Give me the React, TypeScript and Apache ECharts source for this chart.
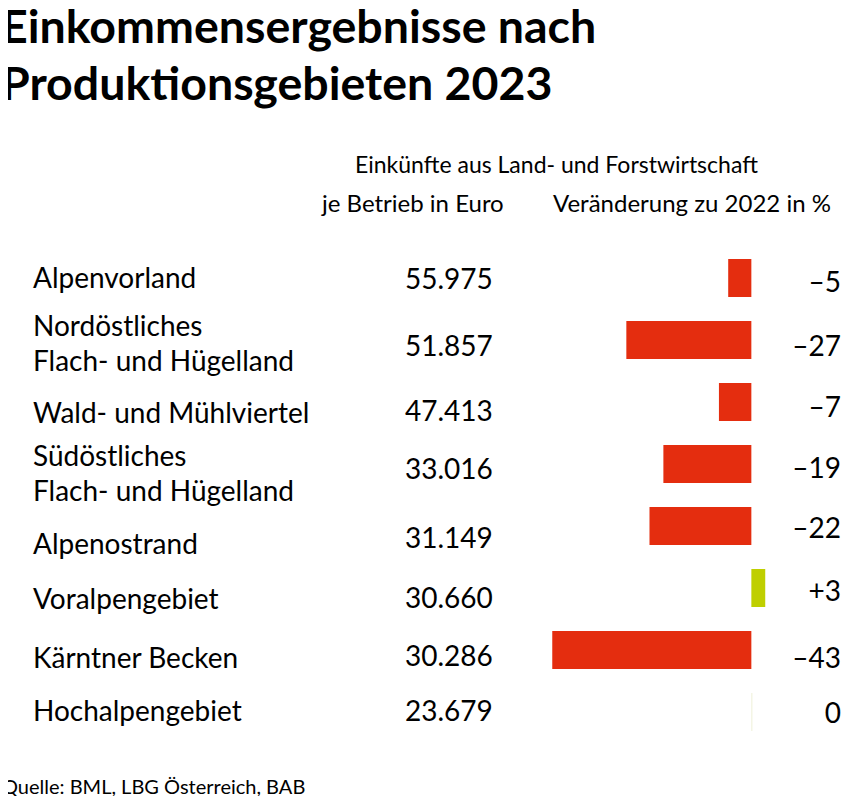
import React, { useEffect, useRef } from "react";
import * as echarts from "echarts";

const regions = [
  "Alpenvorland",
  "Nordöstliches\nFlach- und Hügelland",
  "Wald- und Mühlviertel",
  "Südöstliches\nFlach- und Hügelland",
  "Alpenostrand",
  "Voralpengebiet",
  "Kärntner Becken",
  "Hochalpengebiet",
];
const incomeLabels = ["55.975", "51.857", "47.413", "33.016", "31.149", "30.660", "30.286", "23.679"];
const changes = [-5, -27, -7, -19, -22, 3, -43, 0];

const titleLines = ["Einkommensergebnisse nach", "Produktionsgebieten 2023"];
const headerTop = "Einkünfte aus Land- und Forstwirtschaft";
const headerLeft = "je Betrieb in Euro";
const headerRight = "Veränderung zu 2022 in %";
const sourceText = "Quelle: BML, LBG Österreich, BAB";

// vertical label nudges (styling only)
const nameNudge = [-1, 2, 10, 8, 17, 10, 7, -2];
const valueNudge = [0, 5, 8, 4, 11, 9, 5, -2];
const changeNudge = [3, 5, 4, 3, 1, 2, 7, 0];

const FONT = "Lato";
const RED = "#E42D0F";
const GREEN = "#BFCF00";

function fmtChange(v: number) {
  if (v > 0) return "+" + v;
  if (v < 0) return "\u2013" + Math.abs(v);
  return "0";
}

function buildRich(prefix: string, nudges: number[], fontSize: number, lineHeight: number) {
  const rich: any = {};
  const base = { fontFamily: FONT, fontSize, lineHeight, color: "#000" };
  nudges.forEach((n, i) => {
    rich[prefix + "t" + i] = { ...base, padding: n >= 0 ? [2 * n, 0, 0, 0] : [0, 0, -2 * n, 0] };
  });
  return rich;
}

function makeFormatter(prefix: string) {
  return (value: string, index: number) =>
    String(value)
      .split("\n")
      .map((l) => "{" + prefix + "t" + index + "|" + l + "}")
      .join("\n");
}

export default function App() {
  const ref = useRef<HTMLDivElement>(null);
  useEffect(() => {
    if (!ref.current) return;
    const chart = echarts.init(ref.current, undefined, { renderer: "svg" });
    const labelBase = { fontFamily: FONT, fontSize: 28, color: "#000" };
    const hiddenAxis = {
      type: "category",
      inverse: true,
      axisLine: { show: false },
      axisTick: { show: false },
      splitLine: { show: false },
    };
    const titleStyle = { fontFamily: FONT, fontSize: 46.5, fontWeight: "bold", fill: "#000" };
    chart.setOption({
      animation: false,
      backgroundColor: "#fff",
      graphic: [
        { type: "text", left: 1, top: 1, style: { text: titleLines[0], ...titleStyle } },
        { type: "text", left: 1, top: 58, style: { text: titleLines[1], ...titleStyle } },
        {
          type: "text",
          left: 355,
          top: 152,
          style: { text: headerTop, fontFamily: FONT, fontSize: 23, fill: "#000" },
        },
        {
          type: "text",
          left: 322,
          top: 190,
          style: { text: headerLeft, fontFamily: FONT, fontSize: 24, fill: "#000" },
        },
        {
          type: "text",
          left: 553,
          top: 190,
          style: { text: headerRight, fontFamily: FONT, fontSize: 24, fill: "#000" },
        },
        {
          type: "text",
          left: 2,
          top: 776,
          style: { text: sourceText, fontFamily: FONT, fontSize: 20, fill: "#000" },
        },
      ],
      grid: { left: 543, right: 75.5, top: 247, height: 496, outerBoundsMode: "none", containLabel: false },
      xAxis: { type: "value", min: -45, max: 5, show: false },
      yAxis: [
        {
          ...hiddenAxis,
          data: regions,
          position: "left",
          axisLabel: {
            ...labelBase,
            interval: 0,
            align: "left",
            margin: 510,
            lineHeight: 35,
            formatter: makeFormatter("n"),
            rich: buildRich("n", nameNudge, 28, 35),
          },
        },
        {
          ...hiddenAxis,
          data: incomeLabels,
          position: "left",
          axisLabel: {
            ...labelBase,
            interval: 0,
            align: "left",
            margin: 138,
            formatter: makeFormatter("v"),
            rich: buildRich("v", valueNudge, 28, 35),
          },
        },
        {
          ...hiddenAxis,
          data: changes.map(fmtChange),
          position: "right",
          axisLabel: {
            ...labelBase,
            interval: 0,
            align: "right",
            margin: 66.5,
            formatter: makeFormatter("c"),
            rich: buildRich("c", changeNudge, 28, 35),
          },
        },
      ],
      series: [
        {
          type: "bar",
          yAxisIndex: 0,
          barWidth: 38,
          barMinHeight: 1,
          data: changes.map((v) => ({
            value: v,
            itemStyle: { color: v > 0 ? GREEN : v < 0 ? RED : "#EEF0D8" },
          })),
        },
      ],
    });
    return () => chart.dispose();
  }, []);
  return <div ref={ref} style={{ width: 850, height: 804, margin: -8 }} />;
}
